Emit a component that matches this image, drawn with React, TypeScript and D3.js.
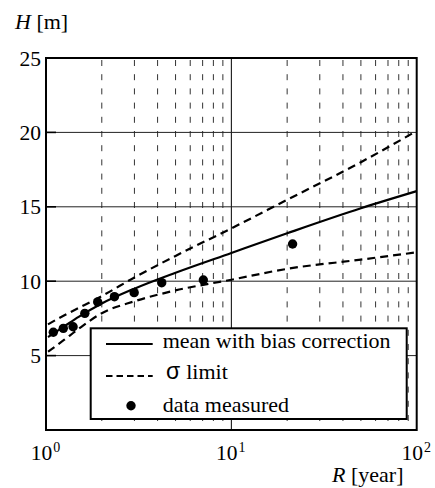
import React from "react";
import * as d3 from "d3";

// ---- data ----
const returnPeriods = [1.025, 1.25, 1.5, 2, 3, 5, 10, 20, 50, 100];
const meanH = [6.25, 6.95, 7.6, 8.5, 9.5, 10.57, 11.9, 13.22, 14.9, 16.05];
const upperH = [7.1, 7.7, 8.2, 9.0, 10.25, 11.7, 13.55, 15.47, 18.0, 20.1];
const lowerH = [5.26, 6.05, 6.8, 7.85, 8.65, 9.38, 10.1, 10.83, 11.45, 11.94];
const measuredR = [1.095, 1.24, 1.4, 1.62, 1.9, 2.34, 2.99, 4.21, 7.06, 21.4];
const measuredH = [6.57, 6.83, 6.94, 7.84, 8.6, 8.96, 9.23, 9.9, 10.08, 12.5];

const yTicks = [5, 10, 15, 20, 25];
const yGrid = [5, 10, 15, 20];
const xMajor = [1, 10, 100];
const xExponents = ["0", "1", "2"];
const xMinor = [2, 3, 4, 5, 6, 7, 8, 9, 20, 30, 40, 50, 60, 70, 80, 90];

const legendLabels = ["mean with bias correction", "limit", "data measured"];

const W = 435;
const H = 488;
const left = 46;
const right = 416.7;
const top = 58;
const bottom = 430;

const SERIF = "'Liberation Serif', 'Times New Roman', serif";

export default function App() {
  const x = d3.scaleLog().domain([1, 100]).range([left, right]);
  const y = d3.scaleLinear().domain([0, 25]).range([bottom, top]);

  const line = d3
    .line<number>()
    .x((_, i) => x(returnPeriods[i]))
    .y((d) => y(d))
    .curve(d3.curveMonotoneX);

  const lx = 90.7;
  const ly = 328.3;
  const lw = 316;
  const lh = 90.7;

  return (
    <svg
      width={W}
      height={H}
      style={{ position: "fixed", left: 0, top: 0, background: "#fff" }}
      fontFamily={SERIF}
    >
      <rect x={0} y={0} width={W} height={H} fill="#fff" />
      {/* vertical minor gridlines (dashed) */}
      {xMinor.map((v) => (
        <line
          key={"vm" + v}
          x1={x(v)}
          x2={x(v)}
          y1={top}
          y2={bottom}
          stroke="#333"
          strokeWidth={1}
          strokeDasharray="6 8.2"
          strokeDashoffset={12.2}
        />
      ))}
      {/* vertical major gridline at 10 */}
      <line x1={x(10)} x2={x(10)} y1={top} y2={bottom} stroke="#000" strokeWidth={1} />
      {/* horizontal gridlines */}
      {yGrid.map((v) => (
        <line key={"hg" + v} x1={left} x2={right} y1={y(v)} y2={y(v)} stroke="#222" strokeWidth={1} />
      ))}
      {/* inner y ticks */}
      {yGrid.map((v) => (
        <line key={"yt" + v} x1={left} x2={left + 10} y1={y(v)} y2={y(v)} stroke="#000" strokeWidth={1.6} />
      ))}

      {/* series */}
      <path d={line(upperH) || ""} fill="none" stroke="#000" strokeWidth={2.2} strokeDasharray="8 5" />
      <path d={line(lowerH) || ""} fill="none" stroke="#000" strokeWidth={2.2} strokeDasharray="8 5" />
      <path d={line(meanH) || ""} fill="none" stroke="#000" strokeWidth={2.2} />
      {measuredR.map((r, i) => (
        <circle key={"pt" + i} cx={x(r)} cy={y(measuredH[i])} r={4.7} fill="#000" />
      ))}

      {/* frame */}
      <rect x={left} y={top} width={right - left} height={bottom - top} fill="none" stroke="#000" strokeWidth={2} />

      {/* y tick labels */}
      {yTicks.map((v) => (
        <text key={"yl" + v} x={41} y={y(v) + 7.5} fontSize={21.5} textAnchor="end">
          {v}
        </text>
      ))}
      {/* x tick labels */}
      {xMajor.map((v, i) => (
        <text key={"xl" + v} x={x(v) - 0.5} y={460} fontSize={21.5} textAnchor="middle">
          <tspan>10</tspan>
          <tspan fontSize={14} dy={-8.5} dx={1}>
            {xExponents[i]}
          </tspan>
        </text>
      ))}

      {/* axis titles */}
      <text x={15} y={28.5} fontSize={22}>
        <tspan fontStyle="italic">H</tspan>
        <tspan> [m]</tspan>
      </text>
      <text x={403.5} y={481.7} fontSize={22} textAnchor="end">
        <tspan fontStyle="italic">R</tspan>
        <tspan> [year]</tspan>
      </text>

      {/* legend */}
      <rect x={lx} y={ly} width={lw} height={lh} fill="#fff" stroke="#000" strokeWidth={2} />
      <line x1={106} x2={152.7} y1={344} y2={344} stroke="#000" strokeWidth={2.2} />
      <text x={162.7} y={348.3} fontSize={22}>
        {legendLabels[0]}
      </text>
      <line x1={106} x2={152.7} y1={376} y2={376} stroke="#000" strokeWidth={2.2} strokeDasharray="6.5 4" />
      <text x={166} y={379.3} fontSize={22}>
        <tspan fontFamily="'Liberation Sans', 'DejaVu Sans', sans-serif" fontSize={23}>
          σ
        </tspan>
        <tspan dx={6}>{legendLabels[1]}</tspan>
      </text>
      <circle cx={131} cy={405.7} r={4.7} fill="#000" />
      <text x={162.7} y={411.7} fontSize={22}>
        {legendLabels[2]}
      </text>
    </svg>
  );
}
